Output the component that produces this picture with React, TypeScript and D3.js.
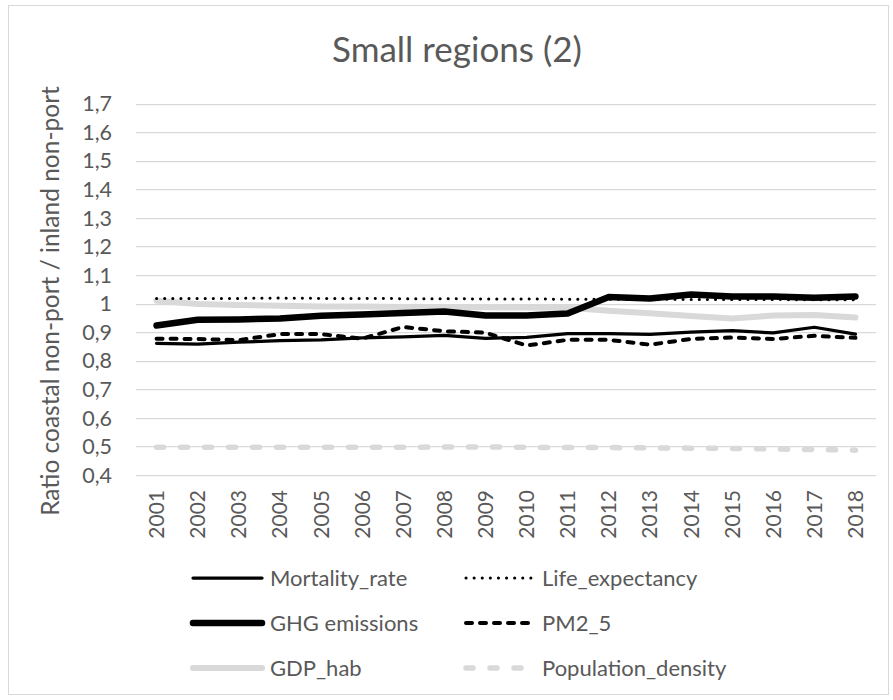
import React from "react";
import * as d3 from "d3";

const years = ["2001","2002","2003","2004","2005","2006","2007","2008","2009","2010","2011","2012","2013","2014","2015","2016","2017","2018"];
const mortality = [0.861,0.858,0.865,0.870,0.873,0.880,0.883,0.889,0.878,0.882,0.895,0.895,0.892,0.900,0.905,0.897,0.917,0.893];
const lifeExp = [1.018,1.018,1.018,1.019,1.018,1.018,1.017,1.017,1.016,1.016,1.015,1.015,1.015,1.014,1.014,1.014,1.013,1.013];
const ghg = [0.923,0.943,0.944,0.948,0.957,0.962,0.967,0.972,0.958,0.958,0.965,1.023,1.018,1.032,1.025,1.025,1.020,1.025];
const pm25 = [0.877,0.876,0.872,0.893,0.893,0.877,0.918,0.903,0.898,0.853,0.873,0.873,0.856,0.876,0.881,0.876,0.887,0.880];
const gdp = [1.010,0.998,0.995,0.992,0.990,0.990,0.988,0.987,0.987,0.986,0.985,0.975,0.966,0.956,0.948,0.958,0.960,0.951];
const popDensity = [0.497,0.497,0.497,0.497,0.497,0.497,0.497,0.498,0.498,0.497,0.496,0.496,0.495,0.494,0.493,0.491,0.489,0.487];
const yTicks = [0.4,0.5,0.6,0.7,0.8,0.9,1.0,1.1,1.2,1.3,1.4,1.5,1.6,1.7];

const seriesNames = ["Mortality_rate","Life_expectancy","GHG emissions","PM2_5","GDP_hab","Population_density"];

type Style = { color: string; width: number; dash?: string; cap: "butt" | "round" };
const styles: Style[] = [
  { color: "#000", width: 3.25, cap: "round" },
  { color: "#000", width: 3, dash: "0.1,8", cap: "round" },
  { color: "#000", width: 6.5, cap: "round" },
  { color: "#000", width: 4, dash: "6,8", cap: "round" },
  { color: "#d9d9d9", width: 6, cap: "round" },
  { color: "#d9d9d9", width: 5.5, dash: "7,17", cap: "round" },
];

const font = "Lato, 'Open Sans', sans-serif";
const textColor = "#595959";

export default function App() {
  const W = 893, H = 700;
  const left = 136, right = 876, top = 103.5, bottom = 475;
  const x = d3.scaleBand<string>().domain(years).range([left, right]);
  const y = d3.scaleLinear().domain([0.4, 1.7]).range([bottom, top]);
  const cx = (d: string) => (x(d) ?? 0) + x.bandwidth() / 2;
  const data = [mortality, lifeExp, ghg, pm25, gdp, popDensity];
  const line = d3.line<number>().x((_, i) => cx(years[i])).y((v) => y(v));
  const order = [5, 4, 1, 3, 0, 2];

  const legendRows = [578, 623, 668];
  const legendCols = [{ x1: 193, x2: 262, tx: 270 }, { x1: 466, x2: 535, tx: 542 }];

  return (
    <svg width={W} height={H} style={{ position: "absolute", left: 0, top: 0, background: "#fff" }} fontFamily={font}>
      <rect x={8.5} y={5.5} width={880} height={689} fill="#fff" stroke="#d9d9d9" strokeWidth={1} />
      <text x={457} y={62} textAnchor="middle" fontSize={35} fill={textColor}>Small regions (2)</text>
      {yTicks.map((t) => (
        <g key={t}>
          <line x1={left} x2={right} y1={Math.round(y(t)) + 0.5} y2={Math.round(y(t)) + 0.5} stroke="#d9d9d9" strokeWidth={1.25} />
          <text x={112} y={y(t)} dy="0.36em" textAnchor="end" fontSize={21.5} fill={textColor}>{d3.format(".1f")(t).replace(".0", "").replace(".", ",")}</text>
        </g>
      ))}
      <text transform={`translate(50,301) rotate(-90)`} textAnchor="middle" dy="0.36em" fontSize={24.5} fill={textColor}>Ratio coastal non-port / inland non-port</text>
      {years.map((yr) => (
        <text key={yr} transform={`translate(${cx(yr)},490) rotate(-90)`} textAnchor="end" dy="0.36em" fontSize={21} fill={textColor}>{yr}</text>
      ))}
      {order.map((k) => (
        <path key={k} d={line(data[k]) ?? ""} fill="none" stroke={styles[k].color} strokeWidth={styles[k].width}
          strokeDasharray={styles[k].dash} strokeLinecap={styles[k].cap} strokeLinejoin="round" />
      ))}
      {seriesNames.map((name, i) => {
        const r = Math.floor(i / 2), c = i % 2;
        const col = legendCols[c];
        const s = styles[i];
        return (
          <g key={name}>
            <line x1={col.x1} x2={col.x2} y1={legendRows[r]} y2={legendRows[r]} stroke={s.color} strokeWidth={s.width}
              strokeDasharray={s.dash} strokeLinecap={s.cap} />
            <text x={col.tx} y={legendRows[r]} dy="0.36em" fontSize={22} fill={textColor}>{name}</text>
          </g>
        );
      })}
    </svg>
  );
}
